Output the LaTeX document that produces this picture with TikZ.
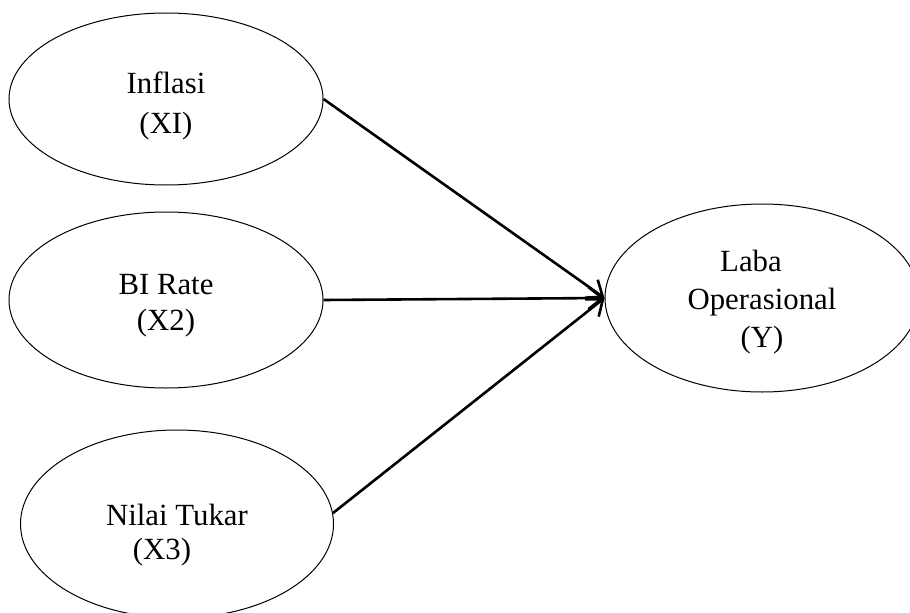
\documentclass[tikz,border=0pt]{standalone}
\usepackage{fontspec}
\setmainfont{Liberation Serif}
\usetikzlibrary{arrows.meta,shapes.geometric}

\begin{document}
\begin{tikzpicture}[x=0.5pt, y=0.5pt, every node/.style={font=\fontsize{15.4}{18}\selectfont}, var/.style={draw, ellipse, line width=0.5pt, inner sep=0pt, align=center}, arr/.style={-{Straight Barb[length=7pt, width=11pt]}, line width=1.3pt}]
	\useasboundingbox (0,0) rectangle (910,612);
	\node[var, minimum width=157pt, minimum height=86pt, font=\fontsize{15.4}{20}\selectfont] (infl) at (166,513) {\rule{0pt}{17.5pt}Inflasi\\(XI)};
	\node[var, minimum width=157pt, minimum height=88pt, font=\fontsize{15.4}{18}\selectfont] (bi) at (166,312) {\rule{0pt}{16.2pt}BI Rate\\(X2)};
	\node[var, minimum width=156.5pt, minimum height=94pt, font=\fontsize{15.4}{17}\selectfont] (nt) at (177,88) {\rule{0pt}{21.5pt}Nilai Tukar\\(X3)\hspace*{15pt}};
	\node[var, minimum width=157pt, minimum height=94pt, font=\fontsize{15.4}{19}\selectfont] (laba) at (762,314) {\rule{0pt}{14.5pt}Laba\hspace*{11pt}\\Operasional\\(Y)};
	\foreach \src/\from in {infl/east, bi/east, nt/4} {\draw[arr] (\src.\from) -- (laba.west);}
\end{tikzpicture}
\end{document}
